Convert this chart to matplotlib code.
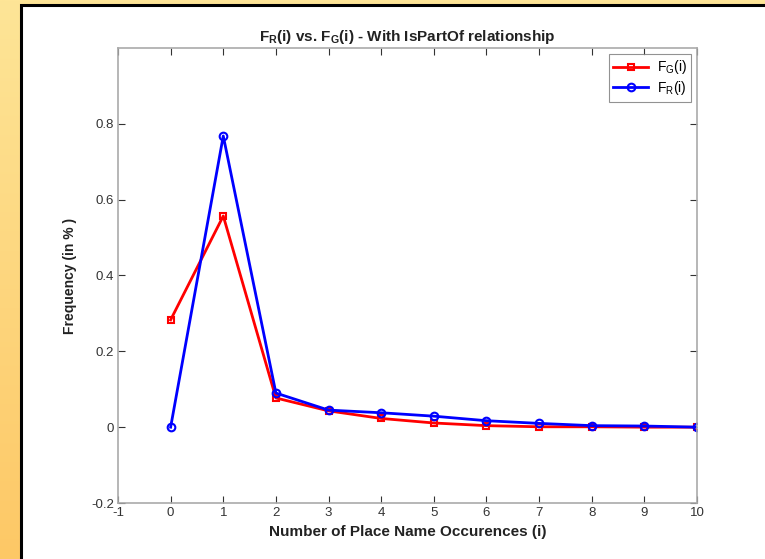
import numpy as np
import matplotlib.pyplot as plt
from matplotlib.patches import Rectangle
from matplotlib.colors import LinearSegmentedColormap

plt.rcParams['font.family'] = ['Liberation Sans', 'DejaVu Sans']
plt.rcParams['mathtext.fontset'] = 'custom'
plt.rcParams['mathtext.rm'] = 'Liberation Sans'
plt.rcParams['mathtext.bf'] = 'Liberation Sans:bold'
plt.rcParams['mathtext.default'] = 'regular'
plt.rcParams['axes.unicode_minus'] = False

# valores
ocorrencias = [0, 1, 2, 3, 4, 5, 6, 7, 8, 9, 10]
freq_g = [0.283, 0.557, 0.077, 0.043, 0.023, 0.011, 0.004, 0.001, 0.001, 0.0, 0.0]
freq_r = [0.0, 0.768, 0.090, 0.045, 0.038, 0.029, 0.017, 0.010, 0.004, 0.003, 0.0]
xticks = list(range(-1, 11))
yticks = [-0.2, 0, 0.2, 0.4, 0.6, 0.8]

fig = plt.figure(figsize=(7.65, 5.59), dpi=100)

# fundo amarelo em gradiente
bg = fig.add_axes([0, 0, 1, 1], zorder=-10)
grad = np.linspace(0, 1, 256).reshape(-1, 1)
cmap = LinearSegmentedColormap.from_list('amarelo', ['#fee597', '#fdc866'])
bg.imshow(grad, aspect='auto', cmap=cmap, extent=[0, 1, 0, 1], origin='upper')
bg.add_patch(Rectangle((21 / 765, -0.01), 1.0, 1 - 5 / 559 + 0.01,
                       facecolor='white', edgecolor='black', linewidth=2.2))
bg.set_xlim(0, 1)
bg.set_ylim(0, 1)
bg.axis('off')

ax = fig.add_axes([118 / 765, 56 / 559, 579 / 765, 455 / 559])
ax.plot(ocorrencias, freq_g, color='red', marker='s', markersize=5,
        markerfacecolor='none', markeredgewidth=1.5, linewidth=2,
        label='F$_G$(i)')
ax.plot(ocorrencias, freq_r, color='blue', marker='o', markersize=5.5,
        markerfacecolor='none', markeredgewidth=1.5, linewidth=2,
        label='F$_R$(i)')

ax.set_xlim(-1, 10)
ax.set_ylim(-0.2, 1.0)
ax.set_xticks(xticks)
ax.set_yticks(yticks)
ax.set_yticklabels(['-0.2', '0', '0.2', '0.4', '0.6', '0.8'])
ax.tick_params(direction='in', top=True, right=True, length=5,
               labelsize=9.5, colors='#333333', width=0.8, pad=3)
for s in ax.spines.values():
    s.set_color('#aaaaaa')
    s.set_linewidth(1.2)

ax.set_xlabel('Number of Place Name Occurences (i)', fontsize=11,
              fontweight='bold', color='#222222', labelpad=4)
ax.set_ylabel('Frequency (in % )', fontsize=10, fontweight='bold',
              color='#222222', labelpad=10)
ax.set_title(r'F$_\mathbf{R}$(i) vs. F$_\mathbf{G}$(i) - With IsPartOf relationship',
             fontsize=11, fontweight='bold', color='#222222', pad=5)

leg = ax.legend(loc='upper right', fontsize=10, frameon=True, fancybox=False,
                edgecolor='#777777', handlelength=2.5, borderaxespad=0.4,
                labelspacing=0.2, handletextpad=0.6, borderpad=0.35)
leg.get_frame().set_linewidth(0.8)

fig.savefig('out.png', dpi=100)
